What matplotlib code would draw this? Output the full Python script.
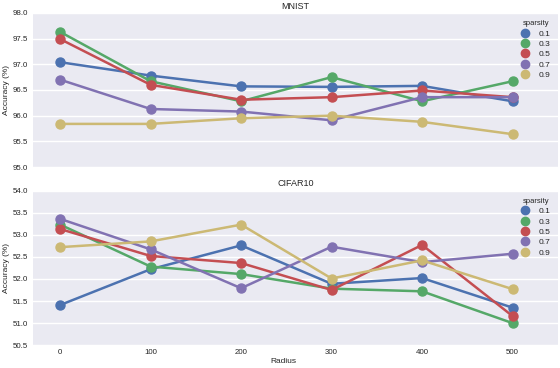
import matplotlib.pyplot as plt
from matplotlib.lines import Line2D
from matplotlib.ticker import FormatStrFormatter

# data
radius = [0, 100, 200, 300, 400, 500]
sparsity = ['0.1', '0.3', '0.5', '0.7', '0.9']
colors = ['#4C72B0', '#55A868', '#C44E52', '#8172B2', '#CCB974']

mnist_01 = [97.04, 96.78, 96.57, 96.56, 96.58, 96.28]
mnist_03 = [97.63, 96.67, 96.28, 96.75, 96.28, 96.67]
mnist_05 = [97.49, 96.60, 96.31, 96.36, 96.49, 96.36]
mnist_07 = [96.70, 96.13, 96.08, 95.91, 96.36, 96.36]
mnist_09 = [95.84, 95.84, 95.95, 96.00, 95.88, 95.64]

cifar_01 = [51.41, 52.22, 52.76, 51.89, 52.02, 51.35]
cifar_03 = [53.23, 52.28, 52.11, 51.78, 51.72, 51.00]
cifar_05 = [53.13, 52.52, 52.36, 51.75, 52.77, 51.16]
cifar_07 = [53.36, 52.67, 51.79, 52.73, 52.38, 52.57]
cifar_09 = [52.72, 52.85, 53.23, 52.01, 52.42, 51.77]

mnist = [mnist_01, mnist_03, mnist_05, mnist_07, mnist_09]
cifar = [cifar_01, cifar_03, cifar_05, cifar_07, cifar_09]

txt = '#262626'
plt.rcParams['font.family'] = ['Liberation Sans', 'DejaVu Sans']

fig = plt.figure(figsize=(5.6, 3.68), dpi=100)
ax1 = fig.add_axes([0.059, 0.546, 0.937, 0.419])
ax2 = fig.add_axes([0.059, 0.062, 0.937, 0.420], sharex=ax1)

xs = list(range(len(radius)))


def draw(ax, series, title, ylim, ystep):
    ax.set_facecolor('#EAEAF2')
    for s in ax.spines.values():
        s.set_visible(False)
    ax.grid(axis='y', color='white', linewidth=1)
    ax.set_axisbelow(True)
    for vals, c in zip(series, colors):
        ax.plot(xs, vals, color=c, linewidth=1.8, marker='o', markersize=6.5)
    ax.set_ylim(*ylim)
    ticks = []
    v = ylim[0]
    while v <= ylim[1] + 1e-9:
        ticks.append(v)
        v += ystep
    ax.set_yticks(ticks)
    ax.yaxis.set_major_formatter(FormatStrFormatter('%.1f'))
    ax.tick_params(axis='y', length=0, labelsize=5.7, colors=txt, pad=3.5)
    ax.tick_params(axis='x', length=0, labelsize=5.7, colors=txt, pad=3)
    ax.set_ylabel('Accuracy (%)', fontsize=6, color=txt, labelpad=2)
    ax.set_title(title, fontsize=6.5, color=txt, pad=3)
    handles = [Line2D([], [], marker='o', linestyle='', color=c, markersize=6)
               for c in colors]
    leg = ax.legend(handles, sparsity, title='sparsity', loc='upper right',
                    frameon=False, fontsize=6, title_fontsize=5.5,
                    handletextpad=1.1, labelspacing=0.3,
                    borderaxespad=0.3, handlelength=1.0,
                    bbox_to_anchor=(0.997, 0.99))
    for t in leg.get_texts():
        t.set_color(txt)
    leg.get_title().set_color(txt)


draw(ax1, mnist, 'MNIST', (95.0, 98.0), 0.5)
draw(ax2, cifar, 'CIFAR10', (50.5, 54.0), 0.5)

ax2.set_xticks(xs)
ax2.set_xticklabels([str(r) for r in radius])
ax2.set_xlim(-0.3, 5.5)
plt.setp(ax1.get_xticklabels(), visible=False)
ax2.set_xlabel('Radius', fontsize=6, color=txt)
ax2.xaxis.set_label_coords(0.478, -0.085)

fig.savefig('out.png', dpi=100)
